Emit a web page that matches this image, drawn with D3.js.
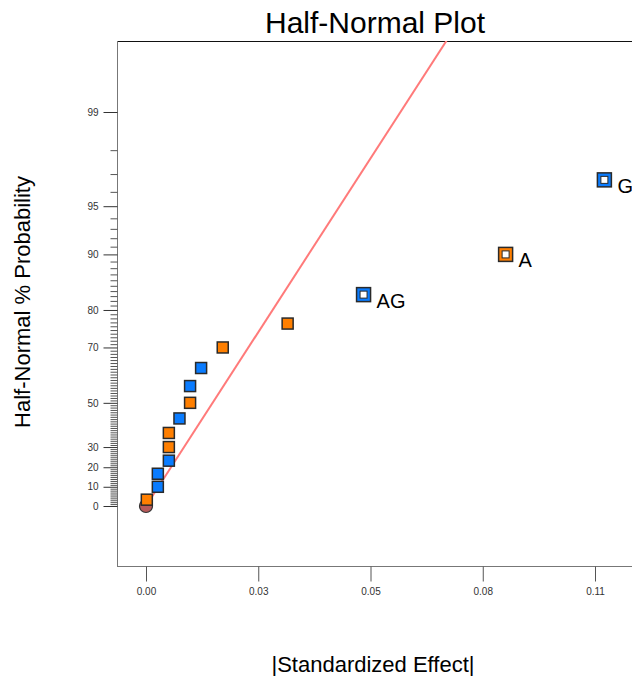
<!DOCTYPE html>
<html>
<head>
<meta charset="utf-8">
<script src="https://cdn.jsdelivr.net/npm/d3@7"></script>
<style>
  body { margin: 0; background: #fff; }
  svg { font-family: Arial, "Liberation Sans", sans-serif; }
</style>
</head>
<body>
<div id="chart"></div>
<script>
// effects (|standardized effect|)
var effects = [0.0002, 0.0029, 0.0029, 0.0056, 0.0056, 0.0056, 0.0082, 0.0108, 0.0108, 0.0135, 0.0188, 0.0347, 0.0533, 0.0881, 0.1123];
// half-normal % probability of each effect
var probs = [3.3, 10.0, 16.7, 23.3, 30.0, 36.7, 43.3, 50.0, 56.7, 63.3, 70.0, 76.7, 83.3, 90.0, 96.7];
// "pos" = orange, "neg" = blue
var signs = ["pos", "neg", "neg", "neg", "pos", "pos", "neg", "pos", "neg", "neg", "pos", "pos", "neg", "pos", "neg"];
var labels = ["", "", "", "", "", "", "", "", "", "", "", "", "AG", "A", "G"];

var xTicks = [0, 0.0275, 0.055, 0.0825, 0.11];
var xTickLabels = ["0.00", "0.03", "0.05", "0.08", "0.11"];
var yMajor = [0, 10, 20, 30, 50, 70, 80, 90, 95, 99];

// reference line: effect vs half-normal quantile
var lineEffect = [0, 0.076];
var lineZ = [0, 3.14];

var W = 632, H = 676;
var plotLeft = 117, plotTop = 41, plotBottom = 566;

// inverse normal cdf (Acklam)
function qnorm(p) {
  var a = [-3.969683028665376e+01, 2.209460984245205e+02, -2.759285104469687e+02, 1.383577518672690e+02, -3.066479806614716e+01, 2.506628277459239e+00];
  var b = [-5.447609879822406e+01, 1.615858368580409e+02, -1.556989798598866e+02, 6.680131188771972e+01, -1.328068155288572e+01];
  var c = [-7.784894002430293e-03, -3.223964580411365e-01, -2.400758277161838e+00, -2.549732539343734e+00, 4.374664141464968e+00, 2.938163982698783e+00];
  var d = [7.784695709041462e-03, 3.224671290700398e-01, 2.445134137142996e+00, 3.754408661907416e+00];
  var plow = 0.02425, q, r;
  if (p < plow) {
    q = Math.sqrt(-2 * Math.log(p));
    return (((((c[0]*q+c[1])*q+c[2])*q+c[3])*q+c[4])*q+c[5]) / ((((d[0]*q+d[1])*q+d[2])*q+d[3])*q+1);
  } else if (p <= 1 - plow) {
    q = p - 0.5; r = q * q;
    return (((((a[0]*r+a[1])*r+a[2])*r+a[3])*r+a[4])*r+a[5])*q / (((((b[0]*r+b[1])*r+b[2])*r+b[3])*r+b[4])*r+1);
  } else {
    q = Math.sqrt(-2 * Math.log(1 - p));
    return -(((((c[0]*q+c[1])*q+c[2])*q+c[3])*q+c[4])*q+c[5]) / ((((d[0]*q+d[1])*q+d[2])*q+d[3])*q+1);
  }
}
function halfZ(pct) { return pct <= 0 ? 0 : qnorm(0.5 + pct / 200); }

var x = d3.scaleLinear().domain([0, 0.11]).range([146, 595]);
var yz = d3.scaleLinear().domain([0, halfZ(99)]).range([506, 112]);
function y(pct) { return yz(halfZ(pct)); }

var svg = d3.select("#chart").append("svg")
  .attr("width", W)
  .attr("height", H);

svg.append("defs").append("clipPath").attr("id", "plotclip")
  .append("rect").attr("x", plotLeft).attr("y", plotTop)
  .attr("width", W - plotLeft).attr("height", plotBottom - plotTop);

// title
svg.append("text")
  .attr("x", 375).attr("y", 33)
  .attr("text-anchor", "middle")
  .style("font-size", "30px")
  .text("Half-Normal Plot");

// frame
svg.append("line").attr("x1", plotLeft).attr("x2", W).attr("y1", plotTop + 0.5).attr("y2", plotTop + 0.5)
  .style("stroke", "#111").style("stroke-width", 1);
svg.append("line").attr("x1", plotLeft + 0.5).attr("x2", plotLeft + 0.5).attr("y1", plotTop).attr("y2", plotBottom)
  .style("stroke", "#777").style("stroke-width", 1);
svg.append("line").attr("x1", plotLeft).attr("x2", W).attr("y1", plotBottom + 0.5).attr("y2", plotBottom + 0.5)
  .style("stroke", "#777").style("stroke-width", 1);

// x axis
var xAxis = svg.append("g")
  .attr("transform", "translate(0," + (plotBottom + 0.5) + ")")
  .call(d3.axisBottom(x).tickValues(xTicks).tickSize(15).tickPadding(6)
    .tickFormat(function(d, i) { return xTickLabels[i]; }));
xAxis.select(".domain").remove();
xAxis.selectAll("line").style("stroke", "#555");
xAxis.selectAll("text").style("font-size", "10px").style("fill", "#333").style("font-family", "Arial, 'Liberation Sans', sans-serif");

// y axis, minor ticks every 1 %
var yMinor = d3.range(1, 99).filter(function(v) { return yMajor.indexOf(v) < 0; });
var yMinorAxis = svg.append("g")
  .attr("transform", "translate(" + (plotLeft + 0.5) + ",0)")
  .call(d3.axisLeft(yz).tickValues(yMinor.map(halfZ)).tickSize(7).tickFormat(""));
yMinorAxis.select(".domain").remove();
yMinorAxis.selectAll("line").style("stroke", "#555");

var yAxis = svg.append("g")
  .attr("transform", "translate(" + (plotLeft + 0.5) + ",0)")
  .call(d3.axisLeft(yz).tickValues(yMajor.map(halfZ)).tickSize(14).tickPadding(5)
    .tickFormat(function(d, i) { return yMajor[i]; }));
yAxis.select(".domain").remove();
yAxis.selectAll("line").style("stroke", "#333");
yAxis.selectAll("text").style("font-size", "10px").style("fill", "#333").style("font-family", "Arial, 'Liberation Sans', sans-serif");

// axis titles
svg.append("text")
  .attr("x", 373).attr("y", 672)
  .attr("text-anchor", "middle")
  .style("font-size", "22px")
  .text("|Standardized Effect|");

svg.append("text")
  .attr("transform", "translate(30,302) rotate(-90)")
  .attr("text-anchor", "middle")
  .style("font-size", "22px")
  .text("Half-Normal % Probability");

// reference line
var lineData = lineEffect.map(function(e, i) { return [x(e), yz(lineZ[i])]; });
svg.append("path")
  .attr("clip-path", "url(#plotclip)")
  .attr("d", d3.line()(lineData))
  .style("fill", "none")
  .style("stroke", "#ff7a7a")
  .style("stroke-width", 2);

// origin marker
svg.append("circle")
  .attr("cx", x(0)).attr("cy", y(0)).attr("r", 6.5)
  .style("fill", "#b85a5a").style("stroke", "#333").style("stroke-width", 1.2);

var pts = effects.map(function(e, i) {
  return { e: e, p: probs[i], s: signs[i], lab: labels[i] };
});
var col = { pos: "#ff7f00", neg: "#0a7cff" };

var plain = pts.filter(function(d) { return !d.lab; });
svg.selectAll(".sq").data(plain).enter().append("rect")
  .attr("class", "sq")
  .attr("x", function(d) { return x(d.e) - 5.5; })
  .attr("y", function(d) { return y(d.p) - 5.5; })
  .attr("width", 11).attr("height", 11)
  .style("fill", function(d) { return col[d.s]; })
  .style("stroke", "#2a2a2a").style("stroke-width", 1.5);

var named = pts.filter(function(d) { return d.lab; });
var g = svg.selectAll(".named").data(named).enter().append("g").attr("class", "named");
g.append("rect")
  .attr("x", function(d) { return x(d.e) - 7; })
  .attr("y", function(d) { return y(d.p) - 7; })
  .attr("width", 14).attr("height", 14)
  .style("fill", function(d) { return col[d.s]; })
  .style("stroke", "#2a2a2a").style("stroke-width", 1.5);
g.append("rect")
  .attr("x", function(d) { return x(d.e) - 3.5; })
  .attr("y", function(d) { return y(d.p) - 3.5; })
  .attr("width", 7).attr("height", 7)
  .style("fill", "#fff")
  .style("stroke", "#2a2a2a").style("stroke-width", 1);
g.append("text")
  .attr("x", function(d) { return x(d.e) + 13; })
  .attr("y", function(d) { return y(d.p) + 13; })
  .style("font-size", "20px")
  .text(function(d) { return d.lab; });
</script>
</body>
</html>
